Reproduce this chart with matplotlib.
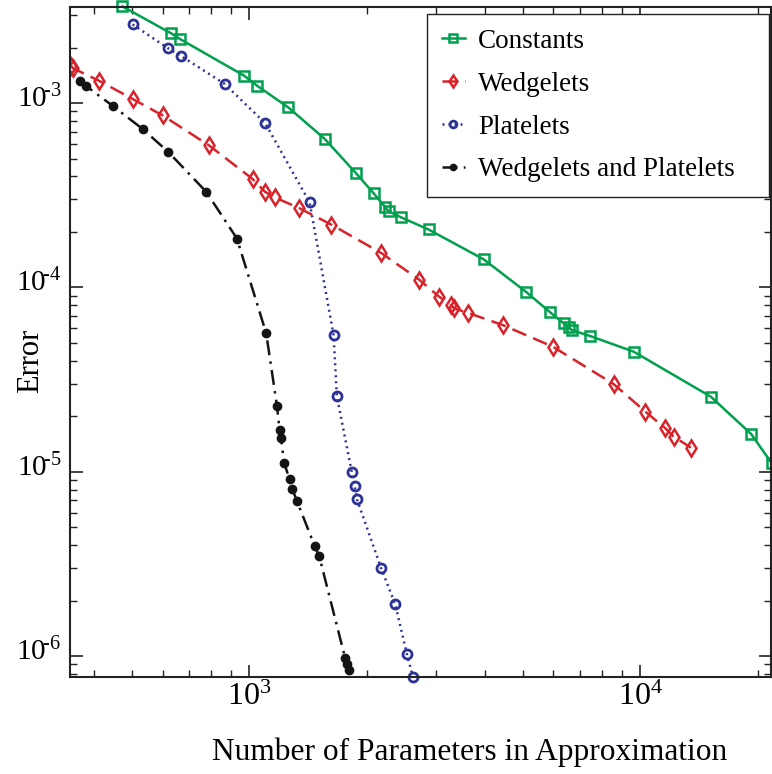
import numpy as np
import matplotlib
matplotlib.use("Agg")
import matplotlib.pyplot as plt
import matplotlib.transforms as mtransforms
from matplotlib.ticker import LogLocator, FixedLocator, NullFormatter

plt.rcParams['font.family'] = ['Liberation Serif', 'DejaVu Serif']
plt.rcParams['mathtext.fontset'] = 'custom'
plt.rcParams['mathtext.rm'] = 'Liberation Serif'
plt.rcParams['mathtext.it'] = 'Liberation Serif:italic'

# data
const_x = [474, 631, 666, 969, 1048, 1258, 1558, 1870, 2080, 2228, 2272, 2443,
           2874, 3976, 5101, 5862, 6368, 6557, 6686, 7451, 9615, 15160, 19220, 21700]
const_y = [3.34e-3, 2.39e-3, 2.22e-3, 1.41e-3, 1.24e-3, 9.47e-4, 6.40e-4, 4.19e-4,
           3.24e-4, 2.72e-4, 2.59e-4, 2.40e-4, 2.06e-4, 1.42e-4, 9.46e-5, 7.37e-5,
           6.38e-5, 6.11e-5, 5.86e-5, 5.44e-5, 4.48e-5, 2.55e-5, 1.60e-5, 1.11e-5]

wedge_x = [350, 355, 413, 504, 600, 789, 1020, 1097, 1161, 1342, 1621, 2172, 2721,
           3061, 3280, 3343, 3616, 4455, 5980, 8546, 10300, 11590, 12170, 13480]
wedge_y = [1.59e-3, 1.54e-3, 1.32e-3, 1.05e-3, 8.57e-4, 5.89e-4, 3.87e-4, 3.30e-4,
           3.08e-4, 2.69e-4, 2.19e-4, 1.54e-4, 1.10e-4, 8.89e-5, 8.01e-5, 7.69e-5,
           7.28e-5, 6.24e-5, 4.76e-5, 2.99e-5, 2.12e-5, 1.72e-5, 1.55e-5, 1.35e-5]

plate_x = [503, 620, 669, 865, 1099, 1427, 1643, 1675, 1830, 1860, 1886, 2172,
           2362, 2531, 2622]
plate_y = [2.67e-3, 1.98e-3, 1.80e-3, 1.27e-3, 7.76e-4, 2.89e-4, 5.51e-5, 2.57e-5,
           9.91e-6, 8.38e-6, 7.08e-6, 3.01e-6, 1.91e-6, 1.02e-6, 7.71e-7]

both_x = [370, 382, 448, 535, 620, 776, 930, 1105, 1177, 1196, 1205, 1229, 1268,
          1288, 1324, 1469, 1510, 1760, 1778, 1802]
both_y = [1.31e-3, 1.24e-3, 9.63e-4, 7.20e-4, 5.44e-4, 3.30e-4, 1.84e-4, 5.63e-5,
          2.28e-5, 1.68e-5, 1.52e-5, 1.11e-5, 9.08e-6, 8.05e-6, 6.95e-6, 3.96e-6,
          3.48e-6, 9.70e-7, 9.04e-7, 8.38e-7]

x_major = [1e3, 1e4]
x_labels = [r'$10^{3}$', r'$10^{4}$']
y_major = [1e-6, 1e-5, 1e-4, 1e-3]
y_labels = [r'$10^{\!\text{-}6}$', r'$10^{\!\text{-}5}$', r'$10^{\!\text{-}4}$', r'$10^{\!\text{-}3}$']

green = '#00a04e'
red = '#d9232b'
blue = '#2d3396'
black = '#141414'

fig = plt.figure(figsize=(7.72, 7.74), dpi=100)
ax = fig.add_axes([0.0907, 0.1253, 0.908, 0.8657])

ax.plot(const_x, const_y, '-', color=green, lw=1.8, marker='s', ms=7.5,
        mfc='none', mec=green, mew=1.8, label='Constants', clip_on=False)
ax.plot(wedge_x, wedge_y, color=red, lw=1.8, ls=(0, (6, 3)), marker='d', ms=8,
        mfc='none', mec=red, mew=1.8, label='Wedgelets')
ax.plot(plate_x, plate_y, color=blue, lw=1.8, ls=(0, (0.8, 1.6)), marker='o', ms=6.5,
        mfc='none', mec=blue, mew=2.0, label='Platelets', clip_on=False)
ax.plot(both_x, both_y, color=black, lw=1.8, ls=(0, (6, 2.5, 1, 2.5)), marker='o',
        ms=6, mfc=black, mec=black, label='Wedgelets and Platelets')

ax.set_xscale('log')
ax.set_yscale('log')
ax.set_xlim(348, 21600)
ax.set_ylim(7.69e-7, 3.32e-3)

ax.xaxis.set_major_locator(FixedLocator(x_major))
ax.set_xticklabels(x_labels)
ax.yaxis.set_major_locator(FixedLocator(y_major))
ax.set_yticklabels(y_labels)
ax.xaxis.set_minor_locator(LogLocator(base=10, subs=np.arange(2, 10)))
ax.yaxis.set_minor_locator(LogLocator(base=10, subs=np.arange(2, 10)))
ax.xaxis.set_minor_formatter(NullFormatter())
ax.yaxis.set_minor_formatter(NullFormatter())

ax.tick_params(which='both', direction='in', top=True, right=True, color='#222222')
ax.tick_params(which='major', length=9, width=1.2)
ax.tick_params(which='minor', length=5, width=1.0)
ax.tick_params(axis='x', which='major', labelsize=23, pad=4)
ax.tick_params(axis='y', which='major', labelsize=21, pad=6)
# lift the y tick labels a little, as in the original
lift = mtransforms.ScaledTranslation(0, 5 / 72, fig.dpi_scale_trans)
for lab in ax.get_yticklabels():
    lab.set_transform(lab.get_transform() + lift)
for s in ax.spines.values():
    s.set_linewidth(1.5)
    s.set_color('#222222')

ax.set_xlabel('Number of Parameters in Approximation', fontsize=22.6)
ax.set_ylabel('Error', fontsize=22)
ax.xaxis.set_label_coords(0.570, -0.091)
ax.yaxis.set_label_coords(-0.036, 0.472)

leg = ax.legend(loc='upper left', bbox_to_anchor=(0.509, 0.712, 0.488, 0.2776),
                mode='expand', fontsize=19.5,
                fancybox=False, edgecolor='#222222', framealpha=1,
                handlelength=0.85, handletextpad=0.5, labelspacing=0.66,
                borderpad=0.55, borderaxespad=0, markerscale=0.75)
leg.get_frame().set_linewidth(1.0)

fig.savefig('out.png', dpi=100)
